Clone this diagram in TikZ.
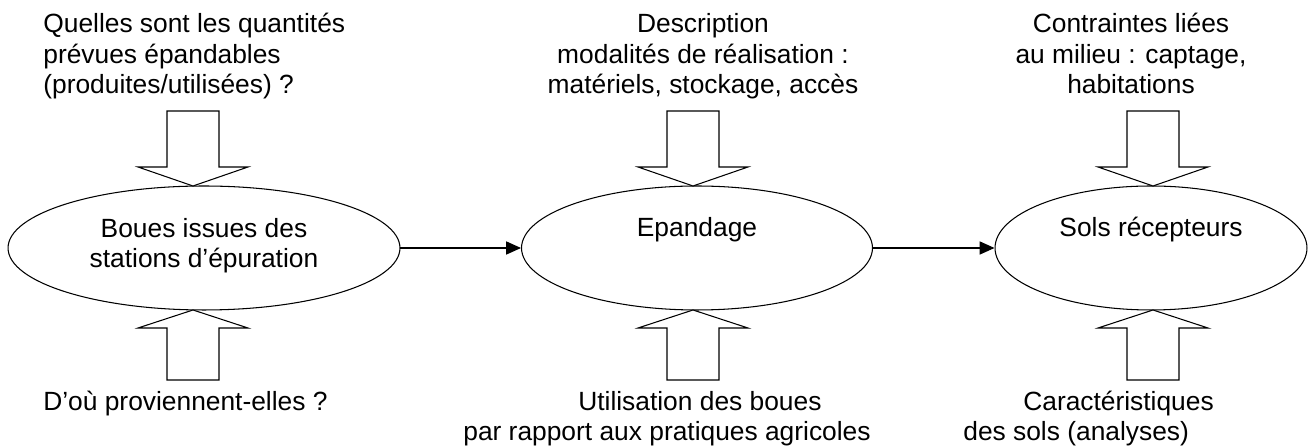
\documentclass[tikz,border=0pt]{standalone}
\usepackage{fontspec}
\setmainfont{Liberation Sans}
\usetikzlibrary{shapes.geometric,arrows.meta}

\tikzset{
	etape/.style={draw, ellipse, line width=0.6pt, minimum height=2.48cm, inner sep=0pt},
	bloc/.style={draw, line width=0.6pt, fill=white},
	fleche/.style={line width=0.6pt, -{Triangle[length=8.5pt,width=7.5pt]}},
	texte/.style={font=\fontsize{15}{17.6}\selectfont, inner sep=0pt}
}

\begin{document}
\begin{tikzpicture}[x=0.02cm,y=-0.02cm]
	\useasboundingbox (0,0) rectangle (1309,448);
	% les trois etapes
	\node[etape, minimum width=7.84cm] (boues) at (204,248) {};
	\node[etape, minimum width=7.02cm] (epandage) at (697,248) {};
	\node[etape, minimum width=6.24cm] (sols) at (1151,248) {};
	\node[texte, anchor=base, align=center] (boues-t) at (204,268) {Boues issues des\\stations d’épuration};
	\node[texte, anchor=base] (epandage-t) at (697,237) {Epandage};
	\node[texte, anchor=base] (sols-t) at (1151,237) {Sols récepteurs};
	\draw[fleche] (boues.east)--(epandage.west);
	\draw[fleche] (epandage.east)--(sols.west);
	% grosses fleches du haut
	\draw[bloc] (167,111)--(219,111)--(219,167)--(248,167)--(193,186)--(138,167)--(167,167)--cycle;
	\draw[bloc] (667,111)--(719,111)--(719,167)--(748,167)--(693,186)--(638,167)--(667,167)--cycle;
	\draw[bloc] (1127,111)--(1179,111)--(1179,167)--(1208,167)--(1153,186)--(1098,167)--(1127,167)--cycle;
	% grosses fleches du bas
	\draw[bloc] (167,380)--(219,380)--(219,328)--(248,328)--(193,310)--(138,328)--(167,328)--cycle;
	\draw[bloc] (667,380)--(719,380)--(719,328)--(748,328)--(693,310)--(638,328)--(667,328)--cycle;
	\draw[bloc] (1127,380)--(1179,380)--(1179,328)--(1208,328)--(1153,310)--(1098,328)--(1127,328)--cycle;
	% questions
	\node[texte, anchor=base west, align=left] (quantites) at (43,94) {Quelles sont les quantités\\prévues épandables\\(produites/utilisées) ?};
	\node[texte, anchor=base, align=center] (modalites) at (703,94) {Description\\modalités de réalisation :\\matériels, stockage, accès};
	\node[texte, anchor=base, align=center] (contraintes) at (1131,94) {Contraintes liées\\au milieu : captage,\\habitations};
	\node[texte, anchor=base west] (origine) at (43,411) {D’où proviennent-elles ?};
	\node[texte, anchor=base west, align=left] (utilisation) at (463,441) {\hspace*{2.3cm}Utilisation des boues\\par rapport aux pratiques agricoles};
	\node[texte, anchor=base west, align=left] (analyses) at (963,441) {\hspace*{1.2cm}Caractéristiques\\des sols (analyses)};
\end{tikzpicture}
\end{document}
